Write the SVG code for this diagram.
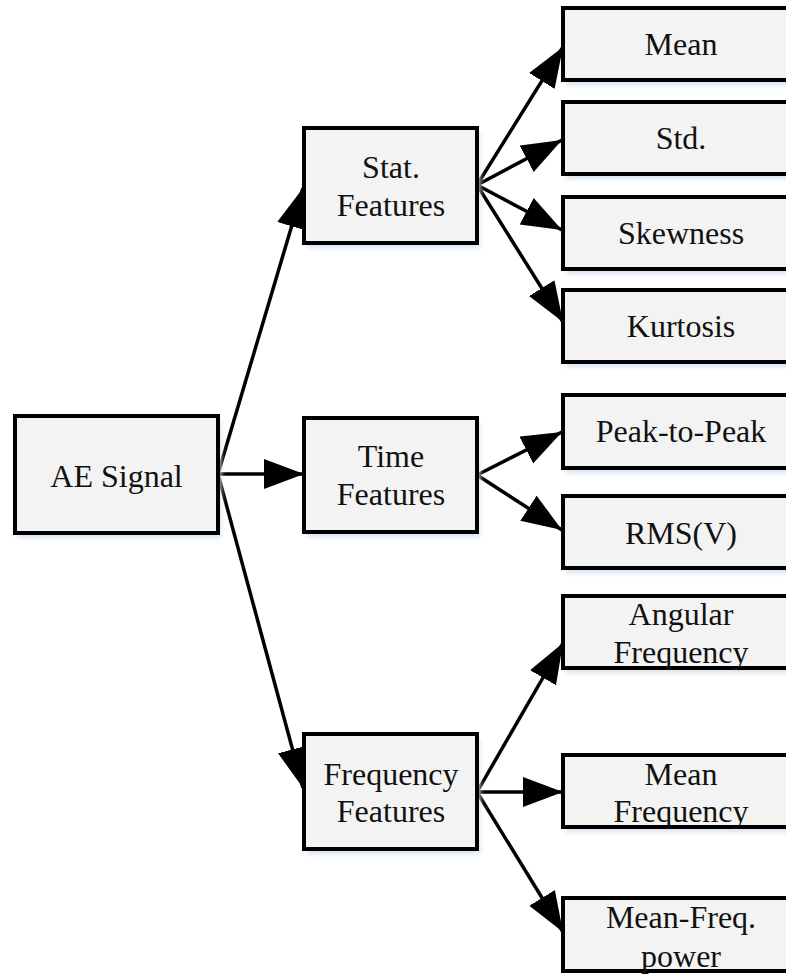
<svg xmlns="http://www.w3.org/2000/svg" width="786" height="974" viewBox="0 0 786 974">
  <defs>
    <marker id="arrow" markerUnits="userSpaceOnUse" markerWidth="44" markerHeight="32" refX="40" refY="15" orient="auto">
      <path d="M0,0 L40,15 L0,30 Z" fill="#000"/>
    </marker>
    <filter id="soft" x="-10%" y="-10%" width="120%" height="130%">
      <feGaussianBlur stdDeviation="2.5"/>
    </filter>
  </defs>
  <style>
    .box { fill: #f3f3f3; stroke: #000; stroke-width: 4; }
    .shadow { fill: #d6e2f0; filter: url(#soft); }
    .label { font-family: "Liberation Serif", "Times New Roman", serif; font-size: 32px; fill: #111; text-anchor: middle; }
    .edge { stroke: #000; stroke-width: 3.5; fill: none; marker-end: url(#arrow); }
  </style>

  <rect width="786" height="974" fill="#fff"/>

  <!-- connectors -->
  <g id="connectors">
    <line class="edge" x1="218" y1="474" x2="303" y2="188"/>
    <line class="edge" x1="218" y1="474" x2="304" y2="474"/>
    <line class="edge" x1="218" y1="474" x2="303" y2="788"/>

    <line class="edge" x1="477" y1="185" x2="563" y2="47"/>
    <line class="edge" x1="477" y1="185" x2="562" y2="140"/>
    <line class="edge" x1="477" y1="185" x2="562" y2="230"/>
    <line class="edge" x1="477" y1="185" x2="563" y2="322"/>

    <line class="edge" x1="477" y1="475" x2="562" y2="432"/>
    <line class="edge" x1="477" y1="475" x2="562" y2="530"/>

    <line class="edge" x1="477" y1="792" x2="563" y2="643"/>
    <line class="edge" x1="477" y1="792" x2="563" y2="792"/>
    <line class="edge" x1="477" y1="792" x2="563" y2="932"/>
  </g>

  <!-- root -->
  <g id="ae-signal">
    <rect class="shadow" x="18" y="421" width="203" height="117"/>
    <rect class="box" x="15" y="416" width="203" height="117"/>
    <text class="label" x="116.5" y="487">AE Signal</text>
  </g>

  <!-- feature groups -->
  <g id="stat-features">
    <rect class="shadow" x="307" y="133" width="173" height="115"/>
    <rect class="box" x="304" y="128" width="173" height="115"/>
    <text class="label" x="391" y="178">Stat.</text>
    <text class="label" x="391" y="216">Features</text>
  </g>
  <g id="time-features">
    <rect class="shadow" x="307" y="423" width="173" height="114"/>
    <rect class="box" x="304" y="418" width="173" height="114"/>
    <text class="label" x="391" y="467">Time</text>
    <text class="label" x="391" y="505">Features</text>
  </g>
  <g id="frequency-features">
    <rect class="shadow" x="307" y="739" width="173" height="115"/>
    <rect class="box" x="304" y="734" width="173" height="115"/>
    <text class="label" x="391" y="785">Frequency</text>
    <text class="label" x="391" y="822">Features</text>
  </g>

  <!-- leaf features -->
  <g id="mean">
    <rect class="shadow" x="566" y="13" width="240" height="72"/>
    <rect class="box" x="563" y="8" width="240" height="72"/>
    <text class="label" x="681" y="55">Mean</text>
  </g>
  <g id="std">
    <rect class="shadow" x="566" y="107" width="240" height="72"/>
    <rect class="box" x="563" y="102" width="240" height="72"/>
    <text class="label" x="681" y="149">Std.</text>
  </g>
  <g id="skewness">
    <rect class="shadow" x="566" y="202" width="240" height="72"/>
    <rect class="box" x="563" y="197" width="240" height="72"/>
    <text class="label" x="681" y="244">Skewness</text>
  </g>
  <g id="kurtosis">
    <rect class="shadow" x="566" y="295" width="240" height="72"/>
    <rect class="box" x="563" y="290" width="240" height="72"/>
    <text class="label" x="681" y="337">Kurtosis</text>
  </g>
  <g id="peak-to-peak">
    <rect class="shadow" x="566" y="400" width="240" height="73"/>
    <rect class="box" x="563" y="395" width="240" height="73"/>
    <text class="label" x="681" y="442">Peak-to-Peak</text>
  </g>
  <g id="rms">
    <rect class="shadow" x="566" y="501" width="240" height="72"/>
    <rect class="box" x="563" y="496" width="240" height="72"/>
    <text class="label" x="681" y="544">RMS(V)</text>
  </g>
  <g id="angular-frequency">
    <rect class="shadow" x="566" y="601" width="240" height="72"/>
    <rect class="box" x="563" y="596" width="240" height="72"/>
    <text class="label" x="681" y="625">Angular</text>
    <text class="label" x="681" y="663">Frequency</text>
  </g>
  <g id="mean-frequency">
    <rect class="shadow" x="566" y="760" width="240" height="72"/>
    <rect class="box" x="563" y="755" width="240" height="72"/>
    <text class="label" x="681" y="785">Mean</text>
    <text class="label" x="681" y="822">Frequency</text>
  </g>
  <g id="mean-freq-power">
    <rect class="box" x="563" y="898" width="240" height="73"/>
    <text class="label" x="681" y="928">Mean-Freq.</text>
    <text class="label" x="681" y="967">power</text>
  </g>
</svg>
